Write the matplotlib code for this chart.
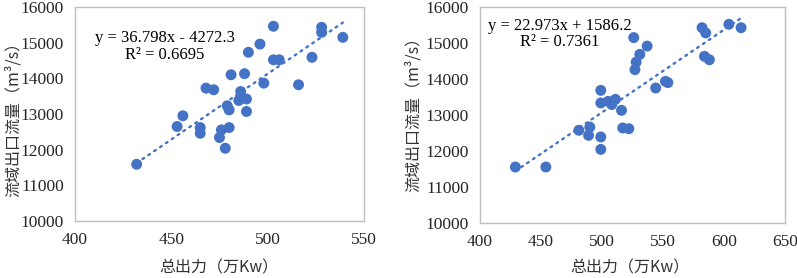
import numpy as np
import matplotlib
matplotlib.use("Agg")
import matplotlib.pyplot as plt

# Left panel data
left_x = [432, 453, 456, 465, 465, 468, 472, 475, 476, 478, 480, 481, 479, 480, 485,
          486, 488, 489, 489, 490, 496, 498, 503, 503, 506, 516, 523, 528, 528, 539]
left_y = [11590, 12650, 12950, 12620, 12460, 13725, 13680, 12340, 12555, 12040, 12620,
          14100, 13230, 13115, 13380, 13630, 14130, 13420, 13070, 14730, 14960, 13865,
          15460, 14520, 14520, 13820, 14590, 15430, 15290, 15150]
left_fit = (36.798, -4272.3)
left_eq = "y = 36.798x - 4272.3\nR² = 0.6695"

# Right panel data
right_x = [429, 454, 481, 490, 489, 499, 499, 499, 499, 505, 508, 511, 516, 517, 522,
           526, 527, 528, 531, 537, 544, 552, 554, 582, 585, 584, 588, 604, 614]
right_y = [11555, 11555, 12575, 12665, 12435, 12390, 12045, 13685, 13335, 13380, 13290,
           13435, 13130, 12640, 12620, 15150, 14260, 14470, 14685, 14915, 13750, 13935,
           13900, 15425, 15280, 14630, 14535, 15520, 15425]
right_fit = (22.973, 1586.2)
right_eq = "y = 22.973x + 1586.2\nR² = 0.7361"

xlabel = "总出力（万Kw）"
ylabel = "流域出口流量（m³/s）"

blue = "#4472C4"
serif = "Liberation Serif"
cjk = ["Noto Sans CJK SC", "DejaVu Sans"]

W, H = 797, 278
fig = plt.figure(figsize=(W / 100, H / 100), dpi=100)
ax1 = fig.add_axes([75 / W, 1 - 221 / H, 289 / W, 214 / H])
ax2 = fig.add_axes([480 / W, 1 - 223 / H, 305 / W, 216 / H])


def draw_panel(ax, xs, ys, fit, eq, xmax, eq_pos, ylab_x, ylab_y, xlab_x):
    ax.scatter(xs, ys, s=62, color=blue, edgecolors="none", zorder=2)
    tx = np.array([min(xs), max(xs)])
    ax.plot(tx, fit[0] * tx + fit[1], color=blue, lw=1.7,
            linestyle=(0, (0.8, 2.2)), dash_capstyle="round", zorder=3)
    ax.set_xlim(400, xmax)
    ax.set_ylim(10000, 16000)
    ax.set_xticks(np.arange(400, xmax + 1, 50))
    ax.set_yticks(np.arange(10000, 16001, 1000))
    ax.tick_params(length=0, pad=8, labelsize=12.5, labelcolor="#262626")
    for lab in ax.get_xticklabels() + ax.get_yticklabels():
        lab.set_fontfamily(serif)
    for sp in ax.spines.values():
        sp.set_color("#BFBFBF")
        sp.set_linewidth(1)
    ax.text(eq_pos[0], eq_pos[1], eq, transform=ax.transAxes, ha="center",
            va="center", multialignment="center", fontsize=12, family=serif,
            color="#000000", linespacing=1.05)
    fig.text(xlab_x / W, 1 - 268 / H, xlabel, family=cjk, fontsize=11.5,
             color="#333333", ha="center", va="center")
    fig.text(ylab_x / W, 1 - ylab_y / H, ylabel, family=cjk, fontsize=11.5,
             color="#333333", ha="center", va="center", rotation=90)


draw_panel(ax1, left_x, left_y, left_fit, left_eq, 550, (0.311, 0.815), 13, 115, 219)
draw_panel(ax2, right_x, right_y, right_fit, right_eq, 650, (0.261, 0.875), 413, 110, 630)

fig.savefig("out.png", dpi=100)
